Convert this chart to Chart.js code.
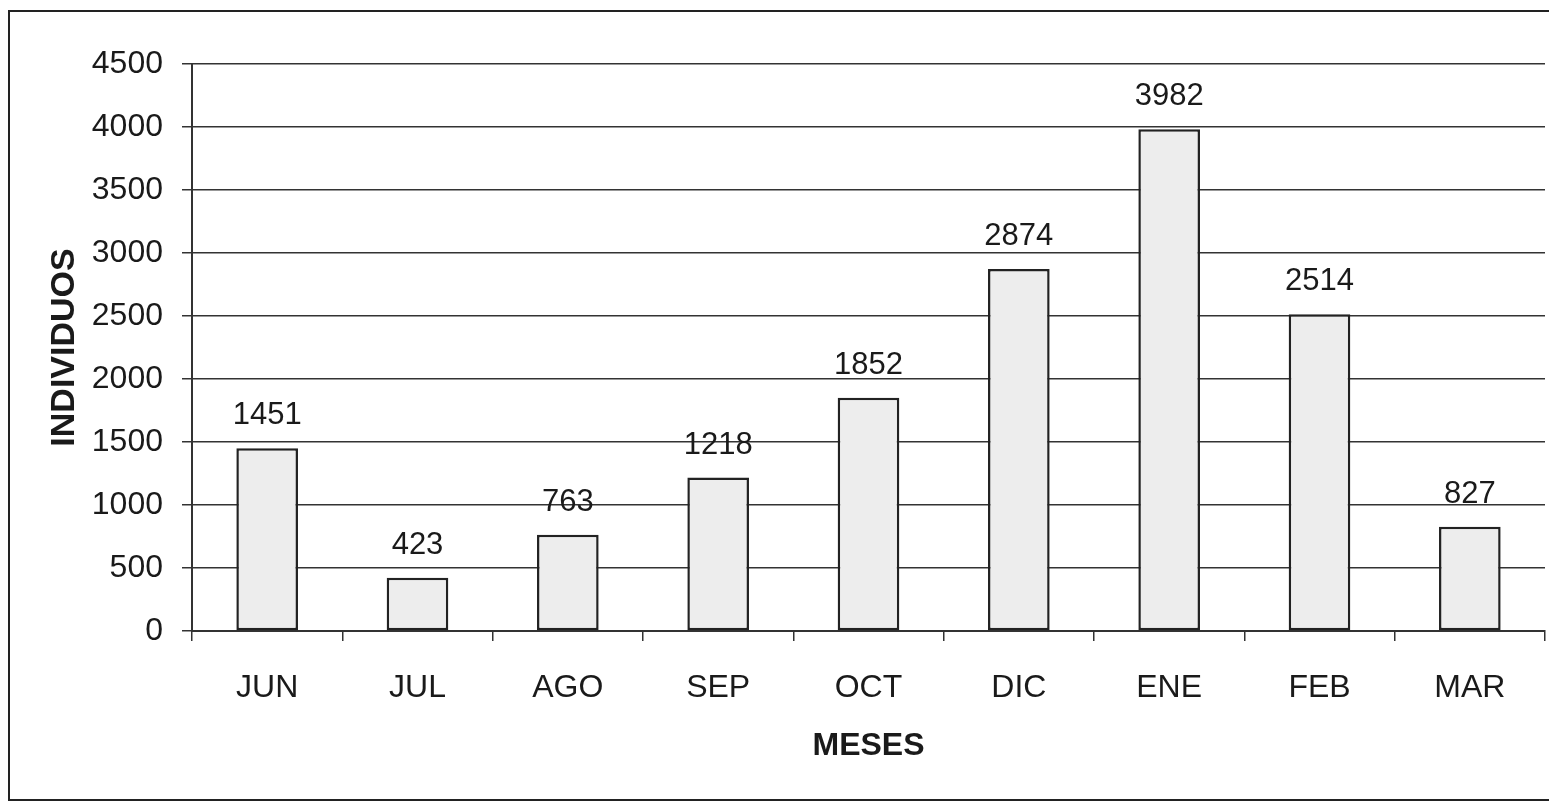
<!DOCTYPE html>
<html>
<head>
<meta charset="utf-8">
<script src="https://cdn.jsdelivr.net/npm/chart.js@4.4.1/dist/chart.umd.min.js"></script>
<style>
  html, body { margin:0; padding:0; background:#fff; }
  #wrap { width:1549px; height:803px; position:relative; }
</style>
</head>
<body>
<div id="wrap"><canvas id="chart"></canvas></div>
<script>
const meses = ['JUN','JUL','AGO','SEP','OCT','DIC','ENE','FEB','MAR'];
const individuos = [1451, 423, 763, 1218, 1852, 2874, 3982, 2514, 827];
const yMin = 0, yMax = 4500, yStep = 500;

const FONT = '"Liberation Sans", Arial, sans-serif';
const INK = '#1a1a1a';

// valores encima de cada barra
const barLabels = {
  id: 'barLabels',
  afterDatasetsDraw(chart){
    const ctx = chart.ctx;
    const meta = chart.getDatasetMeta(0);
    ctx.save();
    ctx.font = '31px ' + FONT;
    ctx.fillStyle = INK;
    ctx.textAlign = 'center';
    ctx.textBaseline = 'bottom';
    meta.data.forEach((bar, i) => {
      ctx.fillText(String(individuos[i]), bar.x, bar.y - 17);
    });
    ctx.restore();
  }
};

// marco exterior
const frame = {
  id: 'frame',
  afterDraw(chart){
    const ctx = chart.ctx;
    ctx.save();
    ctx.strokeStyle = '#222';
    ctx.lineWidth = 2;
    ctx.strokeRect(9, 11, 1600, 789);
    ctx.restore();
  }
};

new Chart(document.getElementById('chart'), {
  type: 'bar',
  data: {
    labels: meses,
    datasets: [{
      label: 'INDIVIDUOS',
      data: individuos,
      backgroundColor: '#ededed',
      borderColor: '#222',
      borderWidth: 2.5,
      borderSkipped: false,
      categoryPercentage: 1,
      barPercentage: 0.41
    }]
  },
  options: {
    responsive: true,
    maintainAspectRatio: false,
    animation: false,
    layout: { padding: { top: 64, right: 4, left: 0, bottom: 0 } },
    plugins: { legend: { display: false }, tooltip: { enabled: false } },
    scales: {
      x: {
        afterFit: (s) => { s.height = 172; },
        grid: { offset: true, drawOnChartArea: false, drawTicks: true, tickLength: 10, color: '#333', lineWidth: 1.5 },
        border: { color: '#333', width: 2 },
        ticks: { color: INK, font: { family: FONT, size: 32 }, padding: 28 },
        title: { display: true, text: 'MESES', color: INK, font: { family: FONT, size: 32, weight: 'bold' }, padding: { top: 0, bottom: 38 } }
      },
      y: {
        min: yMin, max: yMax,
        afterFit: (s) => { s.width = 192; },
        grid: { drawTicks: true, tickLength: 10, color: '#333', lineWidth: 1.5 },
        border: { color: '#333', width: 2 },
        ticks: { stepSize: yStep, color: INK, font: { family: FONT, size: 32 }, padding: 19, callback: (v) => String(v) },
        title: { display: true, text: 'INDIVIDUOS', color: INK, font: { family: FONT, size: 34, weight: 'bold' }, padding: { top: 44, bottom: 0 } }
      }
    }
  },
  plugins: [barLabels, frame]
});
</script>
</body>
</html>
